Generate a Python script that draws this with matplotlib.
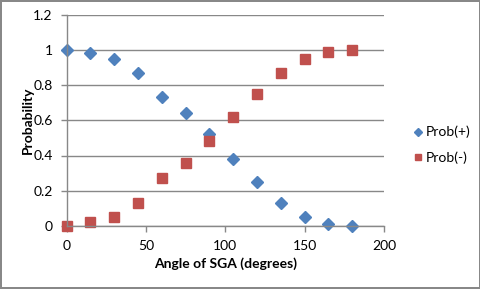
import matplotlib
matplotlib.use("Agg")
import matplotlib.pyplot as plt
from matplotlib.lines import Line2D

angles = [0, 15, 30, 45, 60, 75, 90, 105, 120, 135, 150, 165, 180]
prob_plus = [1.0, 0.98, 0.95, 0.87, 0.73, 0.64, 0.52, 0.38, 0.25, 0.13, 0.05, 0.01, 0.0]
prob_minus = [0.0, 0.02, 0.05, 0.13, 0.27, 0.36, 0.48, 0.62, 0.75, 0.87, 0.95, 0.99, 1.0]
xticks = [0, 50, 100, 150, 200]
yticks = [0, 0.2, 0.4, 0.6, 0.8, 1, 1.2]
ytick_labels = ["0", "0.2", "0.4", "0.6", "0.8", "1", "1.2"]

plt.rcParams['font.family'] = ['Lato', 'DejaVu Sans']

W, H = 481, 289
fig = plt.figure(figsize=(W / 100, H / 100), dpi=100)
fig.patch.set_facecolor('white')
fig.patch.set_edgecolor('#888888')
fig.patch.set_linewidth(1.5)

left, right, top, bottom = 66.5, 384, 14.5, 226
ax = fig.add_axes([left / W, 1 - bottom / H, (right - left) / W, (bottom - top) / H])

ax.plot(angles, prob_plus, linestyle='none', marker='D', markersize=6,
        color='#4F81BD', label='Prob(+)', clip_on=False)
ax.plot(angles, prob_minus, linestyle='none', marker='s', markersize=6.5,
        color='#C0504D', label='Prob(-)', clip_on=False)

ax.set_xlim(0, 200)
ax.set_ylim(0, 1.2)
ax.set_xticks(xticks)
ax.set_yticks(yticks)
ax.set_yticklabels(ytick_labels)
ax.grid(axis='y', color='#888888', linewidth=1)
ax.set_axisbelow(True)
for s in ['top', 'right']:
    ax.spines[s].set_visible(False)
for s in ['left', 'bottom']:
    ax.spines[s].set_color('#888888')
    ax.spines[s].set_linewidth(1)
ax.tick_params(axis='both', colors='#888888', labelcolor='black', labelsize=10,
               length=4, width=1)
ax.tick_params(axis='y', pad=6)
ax.tick_params(axis='x', pad=6)

ax.set_xlabel('Angle of SGA (degrees)', fontsize=10, fontweight='bold', labelpad=4)
ax.set_ylabel('Probability', fontsize=10, fontweight='bold')
ax.yaxis.set_label_coords((34 - left) / (right - left), 0.5)

handles = [
    Line2D([], [], linestyle='none', marker='D', markersize=4.5, color='#4F81BD'),
    Line2D([], [], linestyle='none', marker='s', markersize=5, color='#C0504D'),
]
fig.legend(handles, ['Prob(+)', 'Prob(-)'], loc='center left',
           bbox_to_anchor=(401 / W, 1 - 145 / H), frameon=False, fontsize=10,
           handlelength=0.6, handletextpad=0.3, labelspacing=0.95)

fig.savefig('out.png', dpi=100, facecolor=fig.get_facecolor(), edgecolor=fig.get_edgecolor())
